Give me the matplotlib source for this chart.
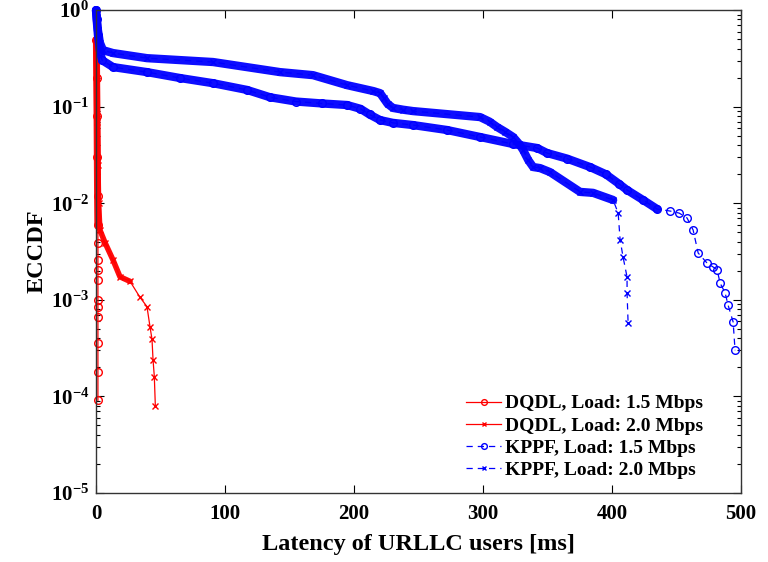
#!/usr/bin/env python3
"""
ECCDF of URLLC user latency, DQDL vs KPPF at two load levels.
Saves out.png
"""

import matplotlib
matplotlib.use("Agg")
import matplotlib.pyplot as plt

# --- Data ---
# DQDL, 1.5 Mbps
dq15_x = [0.3, 0.5, 0.8, 1.0, 1.2, 1.4, 1.5, 1.5, 1.5, 1.5, 1.5, 1.5, 1.5, 1.5, 1.5, 1.5]
dq15_y = [0.49, 0.2, 0.08, 0.03, 0.012, 0.006, 3.9e-3, 2.58e-3, 2.03e-3, 1.6e-3,
          1.0e-3, 8.5e-4, 6.6e-4, 3.55e-4, 1.79e-4, 9.1e-5]

# DQDL, 2.0 Mbps
dq20_x = [0.3, 0.6, 1.0, 1.5, 2.0, 3.0, 7.0, 13.2, 18.6, 26.4, 34.1, 39.5,
          41.9, 43.4, 44.2, 45.2, 46.0]
dq20_y = [0.49, 0.2, 0.07, 0.025, 0.01, 5.3e-3, 3.9e-3, 2.58e-3, 1.73e-3, 1.55e-3,
          1.06e-3, 8.5e-4, 5.2e-4, 3.9e-4, 2.4e-4, 1.6e-4, 7.9e-5]

# KPPF, 1.5 Mbps
kp15_x = [0.0, 0.5, 1.5, 3.0, 4.7, 13.2, 39.5, 65.1, 90.7, 117.1, 135.0, 155.0,
          175.0, 194.6, 205.0, 212.0, 220.2, 230.0, 245.7, 272.1, 297.7, 323.3,
          341.9, 349.6, 365.0, 382.9, 395.0, 405.0, 411.6, 424.0, 434.9, 444.9,
          452.0, 458.1, 462.8, 466.7, 473.6, 478.0, 481.4, 483.7, 487.6, 489.9,
          493.8, 495.3]
kp15_y = [1.0, 0.8, 0.55, 0.38, 0.303, 0.257, 0.228, 0.198, 0.175, 0.149, 0.125,
          0.113, 0.108, 0.104, 0.095, 0.083, 0.0726, 0.068, 0.0645, 0.0573,
          0.0485, 0.041, 0.0373, 0.0331, 0.029, 0.0237, 0.020, 0.016, 0.0137,
          0.0108, 0.0087, 0.0083, 0.0079, 0.00703, 0.00528, 0.00305, 0.0024,
          0.0022, 0.00204, 0.00149, 0.00118, 8.8e-4, 5.9e-4, 3.0e-4]

# KPPF, 2.0 Mbps
kp20_x = [0.0, 0.5, 1.5, 3.0, 5.4, 13.2, 39.5, 90.7, 142.6, 168.2, 194.6, 215.0,
          220.2, 223.0, 226.0, 230.2, 238.0, 245.7, 297.7, 305.0, 310.9, 317.0,
          323.3, 328.0, 331.0, 335.0, 338.8, 344.2, 351.9, 375.2, 385.3, 400.8,
          404.7, 406.2, 408.5, 411.6, 411.6, 412.4]
kp20_y = [1.0, 0.85, 0.62, 0.46, 0.385, 0.359, 0.318, 0.29, 0.228, 0.212, 0.167,
          0.145, 0.138, 0.122, 0.107, 0.097, 0.093, 0.090, 0.078, 0.070, 0.0615,
          0.055, 0.0485, 0.041, 0.0356, 0.028, 0.0237, 0.0231, 0.021, 0.0131,
          0.0128, 0.0108, 0.0079, 0.0042, 0.00277, 0.00172, 0.00118, 5.75e-4]

# number of leading points where markers overlap into a solid band
DQ15_BAND = 6
DQ20_BAND = 10
KP15_BAND = 31
KP20_BAND = 32

RED = "#ff0000"
BLUE = "#0000ff"

plt.rcParams["font.family"] = ["Liberation Serif", "DejaVu Serif"]
plt.rcParams["font.weight"] = "bold"
plt.rcParams["mathtext.fontset"] = "custom"
plt.rcParams["mathtext.rm"] = "Liberation Serif:bold"
plt.rcParams["mathtext.bf"] = "Liberation Serif:bold"
plt.rcParams["mathtext.it"] = "Liberation Serif:bold:italic"
plt.rcParams["mathtext.default"] = "bf"


def draw_series(ax, x, y, band_n, color, marker, ls, label, band_w, ms):
    # dense part drawn as a thick band, like the overlapping markers
    ax.plot(x[:band_n], y[:band_n], color=color, lw=band_w, alpha=0.95,
            solid_capstyle="round", solid_joinstyle="round", clip_on=False)
    ax.plot(x, y, color=color, ls=ls, lw=0.9, marker=marker, ms=ms,
            mfc="none", mew=1.0, label=label, clip_on=False)


def main():
    fig = plt.figure(figsize=(7.68, 5.62), dpi=100)
    ax = fig.add_axes([0.125, 0.123, 0.84, 0.859])

    draw_series(ax, dq15_x, dq15_y, DQ15_BAND, RED, "o", "-",
                "DQDL, Load: 1.5 Mbps", 5, 5.5)
    draw_series(ax, dq20_x, dq20_y, DQ20_BAND, RED, "x", "-",
                "DQDL, Load: 2.0 Mbps", 4, 4)
    draw_series(ax, kp15_x, kp15_y, KP15_BAND, BLUE, "o", (0, (5, 4)),
                "KPPF, Load: 1.5 Mbps", 6, 5.5)
    draw_series(ax, kp20_x, kp20_y, KP20_BAND, BLUE, "x", (0, (5, 4)),
                "KPPF, Load: 2.0 Mbps", 6, 4)

    ax.set_yscale("log")
    ax.set_xlim(0, 500)
    ax.set_ylim(1e-5, 1)
    ax.set_xticks([0, 100, 200, 300, 400, 500])
    ax.tick_params(which="both", direction="in", top=True, right=True,
                   labelsize=15, width=0.8)
    ax.tick_params(which="major", length=6)
    ax.tick_params(axis="x", which="major", pad=8)
    ax.tick_params(axis="y", which="major", pad=5)
    ax.tick_params(which="minor", length=3)
    for sp in ax.spines.values():
        sp.set_linewidth(1.0)
        sp.set_color("#333333")

    ax.set_xlabel("Latency of URLLC users [ms]", fontsize=17.5, fontweight="bold",
                  labelpad=7)
    ax.set_ylabel("ECCDF", fontsize=17.5, fontweight="bold", labelpad=2)

    ax.legend(loc="lower right", bbox_to_anchor=(0.953, 0.012), frameon=False,
              fontsize=14, handlelength=1.8, handletextpad=0.2,
              labelspacing=0.24, borderaxespad=0, markerscale=0.75)

    fig.savefig("out.png", dpi=100)
    plt.close(fig)


if __name__ == "__main__":
    main()
